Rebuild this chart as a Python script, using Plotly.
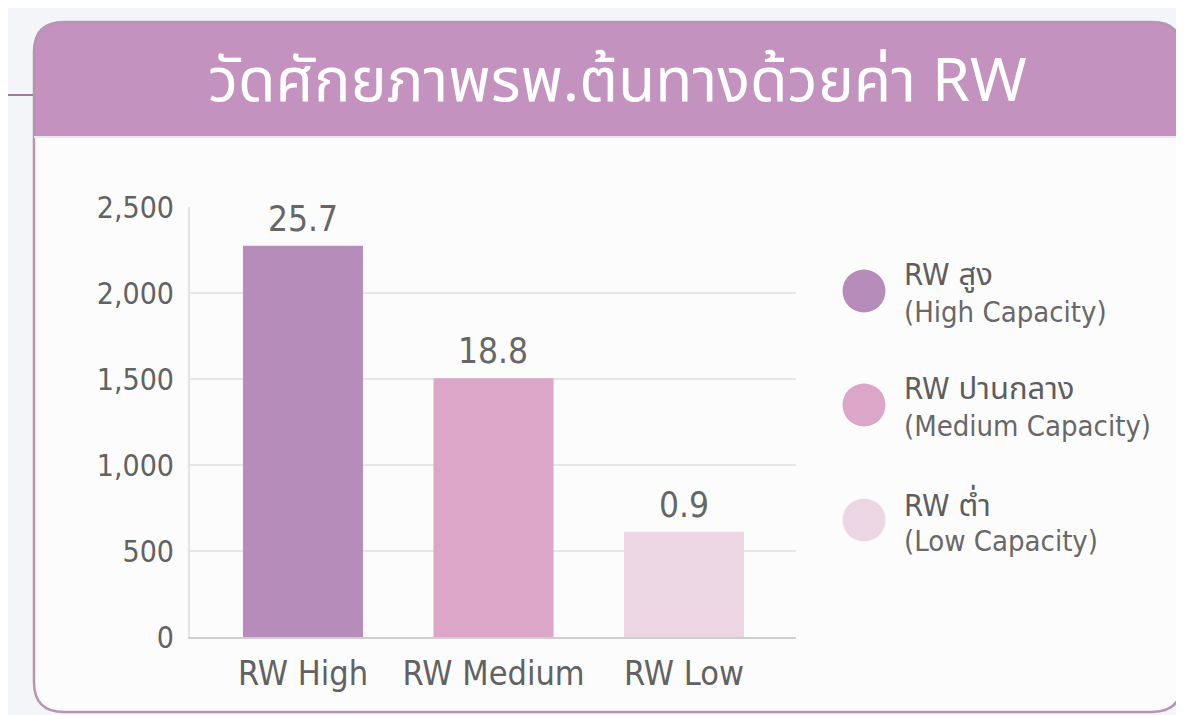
import plotly.graph_objects as go

W, H = 1184, 715
OFF = 8  # page body margin compensation

categories = ["RW High", "RW Medium", "RW Low"]
bar_values = [2275, 1505, 612]
bar_labels = ["25.7", "18.8", "0.9"]
bar_colors = ["#b68cbb", "#dba6c8", "#ecd6e4"]
legend_titles = ["RW สูง", "RW ปานกลาง", "RW ต่ำ"]
legend_subs = ["(High Capacity)", "(Medium Capacity)", "(Low Capacity)"]
y_ticks = [0, 500, 1000, 1500, 2000, 2500]
title_text = "วัดศักยภาพรพ.ต้นทางด้วยค่า RW"

FONT = "DejaVu Sans Condensed, Noto Sans Thai, Noto Sans, sans-serif"
TFONT = "Noto Sans Thai, Noto Sans, sans-serif"


def X(px):
    return (px - OFF) / W


def Y(py):
    return 1 - (py - OFF) / H


def path(points):
    s = ""
    for cmd, *pts in points:
        s += cmd
        s += " ".join(f"{X(px):.5f},{Y(py):.5f}" for px, py in zip(pts[::2], pts[1::2]))
        s += " "
    return s.strip()


fig = go.Figure()
fig.add_trace(go.Bar(
    x=categories, y=bar_values, width=0.63,
    marker=dict(color=bar_colors, line=dict(width=0)),
    showlegend=False, hoverinfo="skip",
))

for c, v, t in zip(categories, bar_values, bar_labels):
    fig.add_annotation(x=c, y=v, text=t, showarrow=False, yshift=27, yanchor="middle",
                       font=dict(family=FONT, size=35, color="#666666"),
                       xref="x", yref="y")

L, R, T, B = 34, 1182, 22, 712
r = 30
hdr = 137
shapes = []
shapes.append(dict(type="line", xref="paper", yref="paper", x0=X(0), x1=X(L), y0=Y(95), y1=Y(95),
                   line=dict(color="#9d7b9b", width=2), layer="below"))
shapes.append(dict(type="path", xref="paper", yref="paper",
                   path=path([("M", L, hdr), ("L", L, B - r), ("Q", L, B, L + r, B), ("L", R - r, B),
                              ("Q", R, B, R, B - r), ("L", R, hdr), ("Z",)]),
                   fillcolor="#fdfcfd", line=dict(width=0), layer="below"))
shapes.append(dict(type="path", xref="paper", yref="paper",
                   path=path([("M", L, hdr), ("L", L, T + r), ("Q", L, T, L + r, T), ("L", R - r, T),
                              ("Q", R, T, R, T + r), ("L", R, hdr), ("Z",)]),
                   fillcolor="#c392be", line=dict(width=0), layer="below"))
shapes.append(dict(type="path", xref="paper", yref="paper",
                   path=path([("M", L, B - r), ("L", L, T + r), ("Q", L, T, L + r, T), ("L", R - r, T),
                              ("Q", R, T, R, T + r), ("L", R, B - r), ("Q", R, B, R - r, B),
                              ("L", L + r, B), ("Q", L, B, L, B - r)]),
                   line=dict(color="#b894b4", width=2.5), layer="below"))
shapes.append(dict(type="line", xref="paper", yref="paper", x0=X(L), x1=X(R), y0=Y(hdr), y1=Y(hdr),
                   line=dict(color="#f1e3ef", width=2), layer="below"))

leg_y = [291, 405, 520]
cx, d = 864, 43
for cy, col in zip(leg_y, bar_colors):
    shapes.append(dict(type="circle", xref="paper", yref="paper",
                       x0=X(cx - d / 2), x1=X(cx + d / 2), y0=Y(cy + d / 2), y1=Y(cy - d / 2),
                       fillcolor=col, line=dict(width=0)))
fig.update_layout(shapes=shapes)

for cy, t, s in zip(leg_y, legend_titles, legend_subs):
    fig.add_annotation(xref="paper", yref="paper", x=X(902), y=Y(cy - 17), text=t, showarrow=False,
                       xanchor="left", yanchor="middle",
                       font=dict(family=FONT, size=31, color="#5e5e5e"))
    fig.add_annotation(xref="paper", yref="paper", x=X(902), y=Y(cy + 21), text=s, showarrow=False,
                       xanchor="left", yanchor="middle",
                       font=dict(family=FONT, size=29, color="#686868"))

fig.add_annotation(xref="paper", yref="paper", x=X(617), y=Y(82), text=title_text, showarrow=False,
                   xanchor="center", yanchor="middle",
                   font=dict(family=TFONT, size=61, color="#ffffff"))

fig.update_layout(
    width=W, height=H,
    margin=dict(l=0, r=0, t=0, b=0, pad=0, autoexpand=False),
    paper_bgcolor="#f3f5f8",
    plot_bgcolor="rgba(0,0,0,0)",
    xaxis=dict(domain=[X(190), X(796)], range=[-0.593, 2.588], showgrid=False, automargin=False,
               showline=True, linecolor="#cfcfcf", linewidth=2,
               ticks="", ticklabelstandoff=5,
               tickfont=dict(family=FONT, size=34, color="#626262"), fixedrange=True),
    yaxis=dict(domain=[Y(637), Y(207)], range=[0, 2500], tickvals=y_ticks, tickformat=",",
               showgrid=True, gridcolor="#e6e6e6", gridwidth=2, automargin=False,
               showline=True, linecolor="#e3e3e3", linewidth=2, zeroline=False,
               ticks="", ticklabelstandoff=8,
               tickfont=dict(family=FONT, size=30, color="#626262"), fixedrange=True),
    bargap=0.37,
)

fig.write_html("out.html")
